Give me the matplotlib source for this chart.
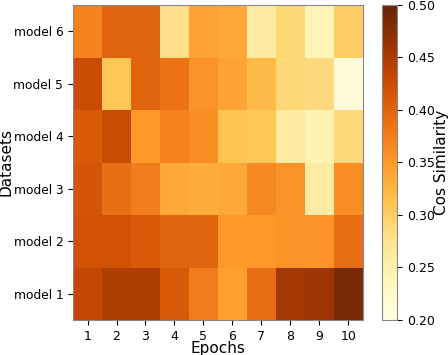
import numpy as np
import matplotlib
matplotlib.use('Agg')
import matplotlib.pyplot as plt

# Cos similarity per model (rows: model 1..6) and epoch (cols: 1..10)
epochs = [1, 2, 3, 4, 5, 6, 7, 8, 9, 10]
models = ['model 1', 'model 2', 'model 3', 'model 4', 'model 5', 'model 6']

model1 = [0.430, 0.445, 0.445, 0.410, 0.375, 0.345, 0.390, 0.455, 0.460, 0.485]
model2 = [0.420, 0.420, 0.410, 0.400, 0.400, 0.350, 0.350, 0.355, 0.355, 0.390]
model3 = [0.415, 0.390, 0.375, 0.335, 0.333, 0.335, 0.365, 0.355, 0.260, 0.360]
model4 = [0.410, 0.425, 0.350, 0.370, 0.360, 0.312, 0.308, 0.260, 0.245, 0.288]
model5 = [0.425, 0.310, 0.400, 0.385, 0.355, 0.340, 0.320, 0.290, 0.285, 0.210]
model6 = [0.370, 0.400, 0.400, 0.280, 0.340, 0.335, 0.260, 0.290, 0.240, 0.300]

data = np.array([model1, model2, model3, model4, model5, model6])

fig = plt.figure(figsize=(4.48, 3.55), dpi=100)
ax = fig.add_axes([0.163, 0.099, 0.647, 0.887])
cax = fig.add_axes([0.853, 0.099, 0.034, 0.887])

im = ax.imshow(data, cmap='YlOrBr', vmin=0.2, vmax=0.5, origin='lower',
               aspect='auto')

ax.set_xticks(range(len(epochs)))
ax.set_xticklabels(epochs, fontsize=9)
ax.set_yticks(range(len(models)))
ax.set_yticklabels(models, fontsize=8.8)
ax.set_xlabel('Epochs', fontsize=11, labelpad=-1)
ax.set_ylabel('Datasets', fontsize=11)
ax.yaxis.set_label_coords(-0.205, 0.5)
for s in ax.spines.values():
    s.set_color('#888888')

cb = fig.colorbar(im, cax=cax)
cb.set_ticks([0.2, 0.25, 0.3, 0.35, 0.4, 0.45, 0.5])
cb.ax.tick_params(labelsize=9)
cb.set_label('Cos Similarity', fontsize=11, labelpad=-1)
cb.outline.set_edgecolor('#888888')

fig.savefig('out.png', dpi=100)
